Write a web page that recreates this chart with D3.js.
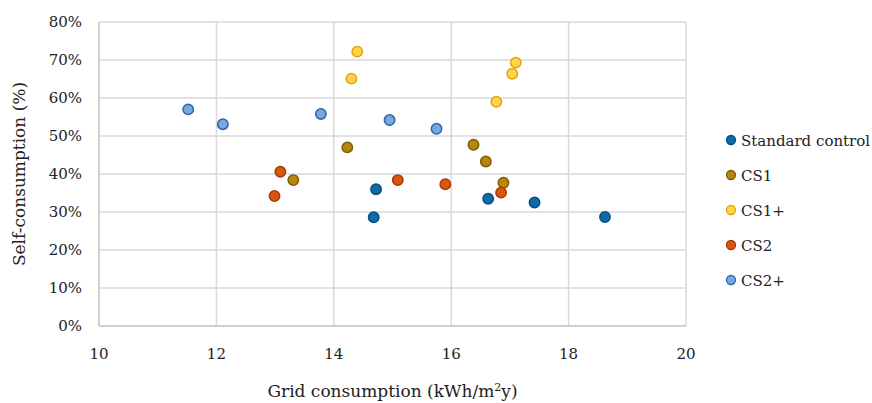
<!DOCTYPE html>
<html>
<head>
<meta charset="utf-8">
<script src="https://cdn.jsdelivr.net/npm/d3@7/dist/d3.min.js"></script>
<style>
  body { margin: 0; background: #fff; }
  svg text { font-family: "DejaVu Serif", "Liberation Serif", serif; fill: #222; }
</style>
</head>
<body>
<div id="graph"></div>
<script>
// series names and colours
var seriesNames = ["Standard control", "CS1", "CS1+", "CS2", "CS2+"];
var fills = ["#0f6aa8", "#b8860b", "#ffd34d", "#d9560f", "#7aa7dc"];
var strokes = ["#0a4f82", "#7f5c05", "#e3a600", "#a83b05", "#2d64aa"];

// grid consumption (kWh/m2y)
var standardX = [14.72, 14.68, 16.63, 17.42, 18.62];
var cs1X = [13.31, 14.23, 16.38, 16.59, 16.89];
var cs1pX = [14.40, 14.30, 17.10, 17.04, 16.77];
var cs2X = [13.09, 12.99, 15.09, 15.90, 16.85];
var cs2pX = [11.52, 12.11, 13.78, 14.95, 15.75];

// self-consumption (%)
var standardY = [36.0, 28.6, 33.5, 32.5, 28.7];
var cs1Y = [38.4, 47.0, 47.7, 43.3, 37.7];
var cs1pY = [72.2, 65.1, 69.3, 66.4, 59.0];
var cs2Y = [40.6, 34.2, 38.4, 37.3, 35.1];
var cs2pY = [57.0, 53.1, 55.8, 54.2, 51.9];

var xTicks = [10, 12, 14, 16, 18, 20];
var yTicks = [0, 10, 20, 30, 40, 50, 60, 70, 80];

var allX = [standardX, cs1X, cs1pX, cs2X, cs2pX];
var allY = [standardY, cs1Y, cs1pY, cs2Y, cs2pY];

draw();

function draw() {
  var svg = d3.select("#graph")
      .append("svg")
      .attr("width", 872)
      .attr("height", 403)
      .attr("font-family", "DejaVu Serif, Liberation Serif, serif");

  var left = 99, right = 686, top = 22, bottom = 326;

  var x = d3.scaleLinear().domain([10, 20]).range([left, right]);
  var y = d3.scaleLinear().domain([0, 80]).range([bottom, top]);

  // grid
  svg.selectAll("line.vgrid")
    .data(xTicks)
    .enter()
    .append("line")
    .attr("x1", function (d) { return x(d); })
    .attr("x2", function (d) { return x(d); })
    .attr("y1", top).attr("y2", bottom)
    .attr("stroke", "#d9d9d9")
    .attr("stroke-width", 1.5);

  svg.selectAll("line.hgrid")
    .data(yTicks)
    .enter()
    .append("line")
    .attr("x1", left).attr("x2", right)
    .attr("y1", function (d) { return y(d); })
    .attr("y2", function (d) { return y(d); })
    .attr("stroke", "#d9d9d9")
    .attr("stroke-width", 1.5);

  // axes lines
  svg.append("line")
    .attr("x1", left).attr("x2", left).attr("y1", top).attr("y2", bottom)
    .attr("stroke", "#c8c8c8").attr("stroke-width", 1.5);
  svg.append("line")
    .attr("x1", left).attr("x2", right).attr("y1", bottom).attr("y2", bottom)
    .attr("stroke", "#c8c8c8").attr("stroke-width", 1.5);

  // tick labels
  svg.selectAll("text.xt")
    .data(xTicks)
    .enter()
    .append("text")
    .attr("x", function (d) { return x(d); })
    .attr("y", 359)
    .attr("text-anchor", "middle")
    .attr("font-size", 15)
    .text(function (d) { return d; });

  svg.selectAll("text.yt")
    .data(yTicks)
    .enter()
    .append("text")
    .attr("x", 82)
    .attr("y", function (d) { return y(d) + 5; })
    .attr("text-anchor", "end")
    .attr("font-size", 15)
    .text(function (d) { return d + "%"; });

  // axis titles
  svg.append("text")
    .attr("x", (left + right) / 2)
    .attr("y", 397)
    .attr("text-anchor", "middle")
    .attr("font-size", 17)
    .html('Grid consumption (kWh/m<tspan baseline-shift="super" font-size="11">2</tspan>y)');

  svg.append("text")
    .attr("transform", "translate(25," + ((top + bottom) / 2) + ") rotate(-90)")
    .attr("text-anchor", "middle")
    .attr("font-size", 17)
    .text("Self-consumption (%)");

  // points
  seriesNames.forEach(function (name, i) {
    var pts = allX[i].map(function (v, j) { return { x: v, y: allY[i][j] }; });
    svg.selectAll("circle.s" + i)
      .data(pts)
      .enter()
      .append("circle")
      .attr("cx", function (d) { return x(d.x); })
      .attr("cy", function (d) { return y(d.y); })
      .attr("r", 5.2)
      .attr("fill", fills[i])
      .attr("stroke", strokes[i])
      .attr("stroke-width", 1.5);
  });

  // legend
  var legend = svg.selectAll("g.legend")
    .data(seriesNames)
    .enter()
    .append("g")
    .attr("transform", function (d, i) { return "translate(731," + (140 + i * 35) + ")"; });

  legend.append("circle")
    .attr("r", 4.5)
    .attr("fill", function (d, i) { return fills[i]; })
    .attr("stroke", function (d, i) { return strokes[i]; })
    .attr("stroke-width", 1.3);

  legend.append("text")
    .attr("x", 10)
    .attr("y", 5.5)
    .attr("font-size", 15)
    .text(function (d) { return d; });
}
</script>
</body>
</html>
